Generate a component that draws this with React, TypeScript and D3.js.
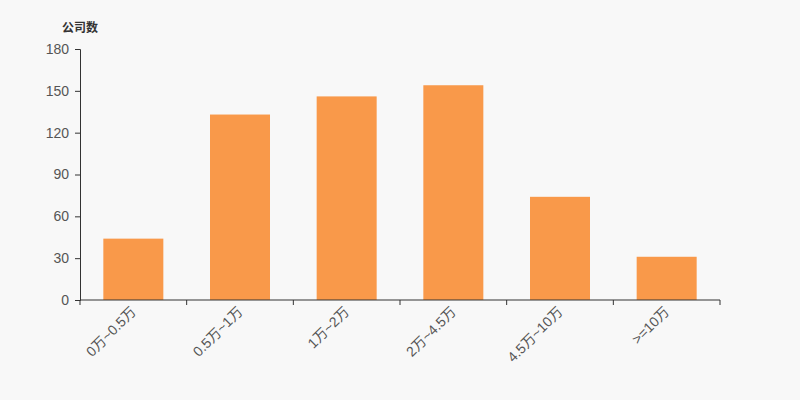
import { useEffect, useRef } from "react";
import * as d3 from "d3";

const categories = ["0万~0.5万", "0.5万~1万", "1万~2万", "2万~4.5万", "4.5万~10万", ">=10万"];
const companyCounts = [44, 133, 146, 154, 74, 31];
const yTicks = [0, 30, 60, 90, 120, 150, 180];

export default function App() {
  const svgRef = useRef<SVGSVGElement>(null);

  useEffect(() => {
    document.body.style.margin = "0";
    if (!svgRef.current) return;
    const width = 800;
    const height = 400;
    const margin = { top: 49, right: 80, bottom: 100, left: 80 };

    const svg = d3.select(svgRef.current);
    svg.selectAll("*").remove();

    svg.append("rect").attr("width", width).attr("height", height).attr("fill", "#f8f8f8");

    const x = d3.scaleBand<string>()
      .domain(categories)
      .range([margin.left, width - margin.right]);

    const y = d3.scaleLinear()
      .domain([0, 180])
      .range([height - margin.bottom, margin.top]);

    const font = "Arial, 'Liberation Sans', 'Noto Sans CJK SC', sans-serif";

    // bars
    const barWidth = 60;
    svg.append("g")
      .selectAll("rect")
      .data(companyCounts)
      .join("rect")
      .attr("x", (_, i) => x(categories[i])! + x.bandwidth() / 2 - barWidth / 2)
      .attr("width", barWidth)
      .attr("y", d => y(d))
      .attr("height", d => y(0) - y(d))
      .attr("fill", "#f9994a");

    // y axis
    const yAxis = svg.append("g")
      .attr("transform", `translate(${margin.left},0)`)
      .call(d3.axisLeft(y).tickValues(yTicks).tickSize(5).tickPadding(6));
    yAxis.select(".domain").attr("stroke", "#333");
    yAxis.selectAll(".tick line").attr("stroke", "#333");
    yAxis.selectAll(".tick text")
      .attr("fill", "#555")
      .attr("font-size", 14)
      .attr("font-family", font);

    // x axis
    const tickPositions = [...categories.map(c => x(c)!), width - margin.right];
    const xAxis = svg.append("g").attr("transform", `translate(0,${y(0)})`);
    xAxis.append("line")
      .attr("x1", margin.left).attr("x2", width - margin.right)
      .attr("stroke", "#333");
    xAxis.selectAll("line.tk")
      .data(tickPositions)
      .join("line")
      .attr("class", "tk")
      .attr("x1", d => d).attr("x2", d => d)
      .attr("y1", 0).attr("y2", 5)
      .attr("stroke", "#333");
    xAxis.selectAll("text")
      .data(categories)
      .join("text")
      .attr("transform", d => `translate(${x(d)! + x.bandwidth() / 2},9) rotate(-45)`)
      .attr("text-anchor", "end")
      .attr("dominant-baseline", "central")
      .attr("fill", "#555")
      .attr("font-size", 14)
      .attr("font-family", font)
      .text(d => d);

    // axis title
    svg.append("text")
      .attr("x", 80)
      .attr("y", 32)
      .attr("text-anchor", "middle")
      .attr("fill", "#333")
      .attr("font-size", 12)
      .attr("font-weight", "bold")
      .attr("font-family", font)
      .text("公司数");
  }, []);

  return (
    <div>
      <svg ref={svgRef} width={800} height={400} style={{ display: "block" }} />
    </div>
  );
}
